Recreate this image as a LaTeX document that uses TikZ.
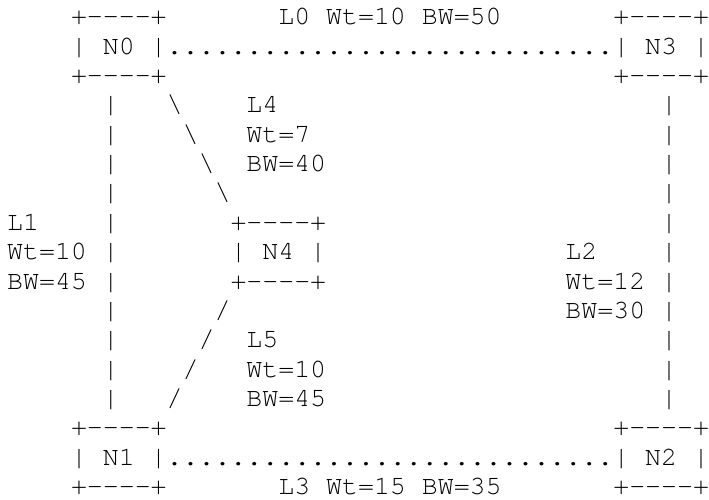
\documentclass[tikz,border=0pt]{standalone}
\usepackage{fontspec}
\setmonofont{texgyrecursor-regular.otf}
\tikzset{asc/.style={font=\ttfamily\fontsize{26.58pt}{29.4pt}\selectfont,
                     inner sep=0pt,anchor=base west}}

\begin{document}
\begin{tikzpicture}[x=15.95pt,y=-29.375pt]
  \useasboundingbox (0pt,0pt) rectangle (709pt,-499pt);
  \begin{scope}[shift={(7pt,-24.7pt)}]

  % hosts
  \node[asc] (N0t) at (4,0)  {+----+};
  \node[asc] (N0)  at (4,1)  {| N0 |};
  \node[asc] (N0b) at (4,2)  {+----+};
  \node[asc] (N3t) at (38,0) {+----+};
  \node[asc] (N3)  at (38,1) {| N3 |};
  \node[asc] (N3b) at (38,2) {+----+};
  \node[asc] (N4t) at (14,7) {+----+};
  \node[asc] (N4)  at (14,8) {| N4 |};
  \node[asc] (N4b) at (14,9) {+----+};
  \node[asc] (N1t) at (4,14)  {+----+};
  \node[asc] (N1)  at (4,15)  {| N1 |};
  \node[asc] (N1b) at (4,16)  {+----+};
  \node[asc] (N2t) at (38,14) {+----+};
  \node[asc] (N2)  at (38,15) {| N2 |};
  \node[asc] (N2b) at (38,16) {+----+};

  % links
  \node[asc] (L0line) at (10,1)  {............................};
  \node[asc] (L3line) at (10,15) {............................};
  \foreach \r in {3,...,13} {
    \node[asc] (L1line\r) at (6,\r)  {|};
    \node[asc] (L2line\r) at (41,\r) {|};
  }
  \foreach \r/\c in {3/10,4/11,5/12,6/13}
    \node[asc] (L4line\r) at (\c,\r) {\textbackslash};
  \foreach \r/\c in {10/13,11/12,12/11,13/10}
    \node[asc] (L5line\r) at (\c,\r) {/};

  % link labels
  \node[asc] (L0) at (17,0)  {L0 Wt=10 BW=50};
  \node[asc] (L3) at (17,16) {L3 Wt=15 BW=35};
  \node[asc] (L1)   at (0,7) {L1};
  \node[asc] (L1wt) at (0,8) {Wt=10};
  \node[asc] (L1bw) at (0,9) {BW=45};
  \node[asc] (L2)   at (35,8)  {L2};
  \node[asc] (L2wt) at (35,9)  {Wt=12};
  \node[asc] (L2bw) at (35,10) {BW=30};
  \node[asc] (L4)   at (15,3) {L4};
  \node[asc] (L4wt) at (15,4) {Wt=7};
  \node[asc] (L4bw) at (15,5) {BW=40};
  \node[asc] (L5)   at (15,11) {L5};
  \node[asc] (L5wt) at (15,12) {Wt=10};
  \node[asc] (L5bw) at (15,13) {BW=45};

  \end{scope}
\end{tikzpicture}
\end{document}
